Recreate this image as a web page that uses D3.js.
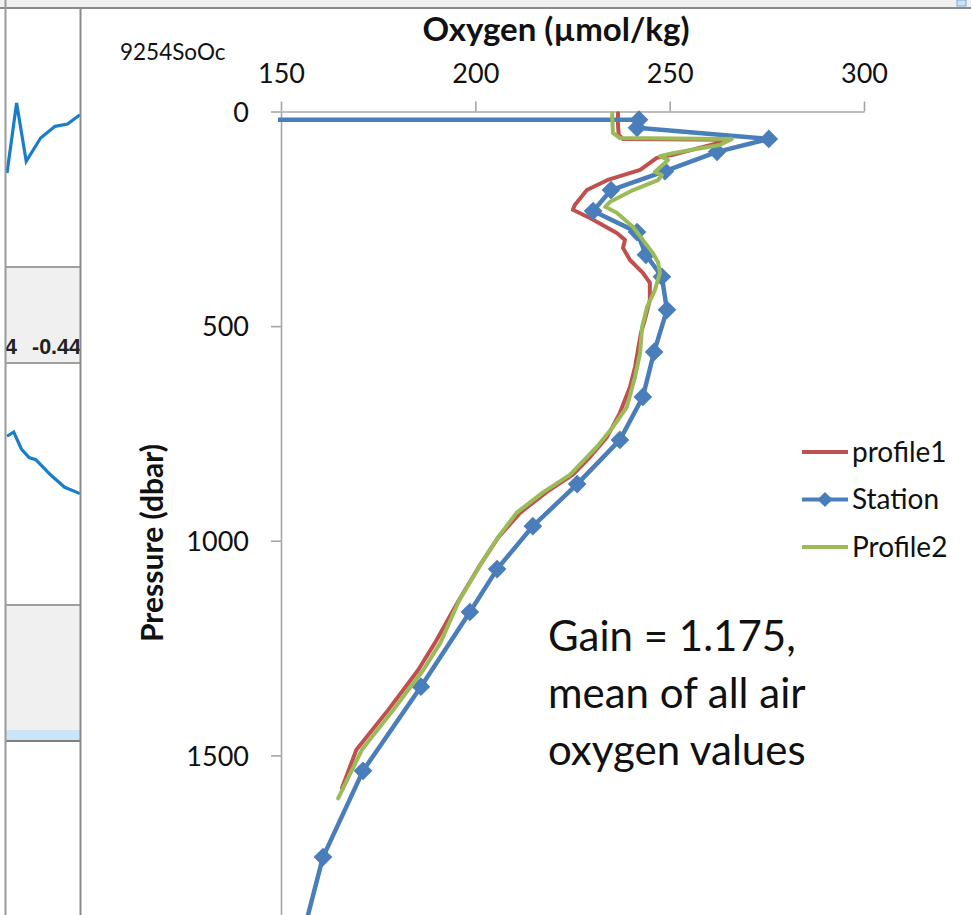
<!DOCTYPE html>
<html>
<head>
<meta charset="utf-8">
<script src="https://cdn.jsdelivr.net/npm/d3@7/dist/d3.min.js"></script>
<style>
  html, body { margin: 0; padding: 0; background: #fff; }
  svg { display: block; font-family: Lato, "Open Sans", sans-serif; }
</style>
</head>
<body>
<div id="chart"></div>
<script>
// Station oxygen profile vs two float profiles (pressure down, oxygen across).

// Station bottle/CTD values (first value is off the left of the axis).
var stationPressure = [20, 19, 38, 64, 94, 139, 183, 232, 281, 334, 385, 462, 560, 665, 765,
                       868, 966, 1066, 1166, 1340, 1536, 1737, 1940];
var stationOxygen = [0, 242.1, 241.6, 275.5, 262.2, 248.8, 234.9, 230.3, 241.6, 243.9, 248.0,
                     249.3, 246.0, 243.1, 237.2, 226.2, 214.8, 205.6, 198.6, 186.0, 171.1, 160.8, 155];

var profile1Pressure = [4, 30, 55, 64, 66, 101, 108, 136, 160, 183, 218, 229, 248, 283, 299, 318,
                        346, 376, 399, 439, 486, 516, 595, 642, 702, 758, 805, 846, 886, 935, 991,
                        1061, 1138, 1238, 1301, 1394, 1487, 1576];
var profile1Oxygen = [236.7, 236.7, 236.9, 238.0, 265.5, 250.8, 246.7, 242.4, 233.9, 228.7, 225.6,
                      225.1, 229.5, 236.4, 238.5, 238.0, 239.8, 243.1, 244.9, 244.9, 243.6, 242.6,
                      241.1, 239.8, 237.2, 233.9, 229.5, 225.1, 218.4, 211.5, 206.0, 200.9, 195.8,
                      189.6, 185.3, 177.6, 169.4, 165.7];

var profile2Pressure = [4, 50, 62, 64, 78, 97, 104, 113, 141, 148, 160, 183, 211, 222, 236, 269,
                        299, 330, 351, 376, 416, 455, 502, 563, 618, 688, 735, 781, 846, 886, 935,
                        991, 1061, 1138, 1238, 1301, 1394, 1487, 1600];
var profile2Oxygen = [235.2, 235.4, 237.2, 266.0, 262.9, 250.8, 247.5, 249.6, 246.2, 248.0, 247.0,
                      240.6, 234.6, 233.4, 236.4, 240.6, 243.1, 245.7, 247.0, 247.5, 246.2, 244.2,
                      242.9, 242.4, 241.1, 239.0, 235.4, 231.3, 224.4, 217.6, 210.6, 205.9, 201.0,
                      195.9, 191.0, 186.6, 178.9, 170.8, 164.7];

var oxygenTicks = [150, 200, 250, 300];
var pressureTicks = [0, 500, 1000, 1500];
var seriesNames = ["profile1", "Station", "Profile2"];
var noteLines = ["Gain = 1.175,", "mean of all air", "oxygen values"];

// Neighbouring spreadsheet panes that show at the left edge of the screenshot.
var sparkTop = [70, 100, 75, 85, 90, 91, 95];
var sparkTopX = [0, 1, 2, 3.5, 5, 6.3, 7.6];
var sparkMid = [70, 72, 64, 60, 59, 52, 46, 43];
var sparkMidX = [0, 0.7, 1.5, 2.3, 3, 4.5, 6, 7.6];
var cellText = ["4", "-0.44"];

var width = 971, height = 915;
var colors = { profile1: "#c0504d", Station: "#4a7ebb", Profile2: "#9bbb59" };
var axisColor = "#a6a6a6";

var svg = d3.select("#chart").append("svg")
    .attr("width", width)
    .attr("height", height);

// ---- window chrome ----
svg.append("rect").attr("width", width).attr("height", height).attr("fill", "#fff");
svg.append("rect").attr("x", 0).attr("y", 0).attr("width", width).attr("height", 7.5).attr("fill", "#f0f0f0");
svg.append("rect").attr("x", 6).attr("y", 267).attr("width", 74).attr("height", 96).attr("fill", "#f0f0f0");
svg.append("rect").attr("x", 6).attr("y", 605).attr("width", 74).attr("height", 125).attr("fill", "#f0f0f0");
svg.append("rect").attr("x", 6).attr("y", 730).attr("width", 74).attr("height", 10).attr("fill", "#cce4f7");
[267, 363, 605].forEach(function (y){
  svg.append("line").attr("x1", 6).attr("x2", 80).attr("y1", y).attr("y2", y)
    .attr("stroke", "#a0a0a0").attr("stroke-width", 2);
});
svg.append("line").attr("x1", 6).attr("x2", 80).attr("y1", 741).attr("y2", 741)
  .attr("stroke", "#555").attr("stroke-width", 1.5);
svg.append("line").attr("x1", 0).attr("x2", width).attr("y1", 8).attr("y2", 8)
  .attr("stroke", "#8a8a8a").attr("stroke-width", 2);
svg.append("rect").attr("x", 957).attr("y", 0).attr("width", 9).attr("height", 6)
  .attr("fill", "#cce4f7").attr("stroke", "#7aa7d4").attr("stroke-width", 1);

// little line charts in the left pane
var sparkX = d3.scaleLinear().domain([0, 7.6]).range([7, 80]);
var sparkTopY = d3.scaleLinear().domain([70, 100]).range([173, 103]);
var sparkMidY = d3.scaleLinear().domain([40, 72]).range([500, 432]);
var leftPane = svg.append("g");
leftPane.append("path")
  .datum(d3.zip(sparkTopX, sparkTop))
  .attr("fill", "none").attr("stroke", "#1a7dc8").attr("stroke-width", 3.2)
  .attr("d", d3.line().x(function (d){ return sparkX(d[0]); }).y(function (d){ return sparkTopY(d[1]); }));
leftPane.append("path")
  .datum(d3.zip(sparkMidX, sparkMid))
  .attr("fill", "none").attr("stroke", "#1a7dc8").attr("stroke-width", 3.2)
  .attr("d", d3.line().x(function (d){ return sparkX(d[0]); }).y(function (d){ return sparkMidY(d[1]); }));
leftPane.selectAll("text.cell")
  .data(cellText)
  .enter().append("text")
    .attr("class", "cell")
    .attr("x", function (d, i){ return i === 0 ? 5 : 32; })
    .attr("y", 354)
    .attr("font-family", "Liberation Sans, Arial, sans-serif")
    .attr("font-weight", "bold")
    .attr("font-size", 21.5)
    .attr("fill", "#222")
    .text(function (d){ return d; });
svg.append("line").attr("x1", 5.5).attr("x2", 5.5).attr("y1", 0).attr("y2", height)
  .attr("stroke", "#9a9a9a").attr("stroke-width", 2);

// chart pane
svg.append("rect").attr("x", 81).attr("y", 9).attr("width", width - 81).attr("height", height - 9).attr("fill", "#fff");
svg.append("line").attr("x1", 80.5).attr("x2", 80.5).attr("y1", 7).attr("y2", height)
  .attr("stroke", "#8a8a8a").attr("stroke-width", 2);

// ---- scales ----
var x = d3.scaleLinear().domain([150, 300]).range([281, 864]);
var y = d3.scaleLinear().domain([0, 2000]).range([111.5, 970]);

// ---- axes ----
var xAxis = svg.append("g")
  .attr("transform", "translate(0," + y(0) + ")")
  .call(d3.axisTop(x).tickValues(oxygenTicks).tickSize(10).tickPadding(19).tickSizeOuter(0));
var yAxis = svg.append("g")
  .attr("transform", "translate(" + x(150) + ",0)")
  .call(d3.axisLeft(y).tickValues(pressureTicks).tickFormat(d3.format("d"))
    .tickSize(10).tickPadding(22).tickSizeOuter(0));

[xAxis, yAxis].forEach(function (ax){
  ax.select(".domain").attr("stroke", axisColor).attr("stroke-width", 1.6);
  ax.selectAll(".tick line").attr("stroke", axisColor).attr("stroke-width", 1.6);
  ax.selectAll(".tick text")
    .attr("fill", "#111")
    .style("font-family", "Lato, sans-serif")
    .style("font-size", "27px");
});
yAxis.selectAll(".tick text").attr("dy", "0.36em");

svg.append("text")
  .attr("x", 556).attr("y", 41)
  .attr("text-anchor", "middle")
  .attr("font-weight", "bold")
  .attr("font-size", 33)
  .attr("fill", "#111")
  .text("Oxygen (µmol/kg)");

svg.append("text")
  .attr("x", 120).attr("y", 60)
  .attr("font-size", 22.5)
  .attr("fill", "#111")
  .text("9254SoOc");

svg.append("text")
  .attr("transform", "translate(163,543) rotate(-90)")
  .attr("text-anchor", "middle")
  .attr("font-weight", "bold")
  .attr("font-size", 30)
  .attr("fill", "#111")
  .text("Pressure (dbar)");

// ---- series ----
svg.append("clipPath").attr("id", "plot-clip")
  .append("rect").attr("x", 278).attr("y", 95).attr("width", 620).attr("height", 900);

var plot = svg.append("g").attr("clip-path", "url(#plot-clip)");

var line = d3.line()
  .x(function (d){ return x(d[1]); })
  .y(function (d){ return y(d[0]); });

var profile1 = d3.zip(profile1Pressure, profile1Oxygen),
    station = d3.zip(stationPressure, stationOxygen),
    profile2 = d3.zip(profile2Pressure, profile2Oxygen);

plot.append("path").datum(profile1)
  .attr("fill", "none").attr("stroke", colors.profile1)
  .attr("stroke-width", 4).attr("stroke-linejoin", "round").attr("stroke-linecap", "round")
  .attr("d", line);

plot.append("path").datum(station)
  .attr("fill", "none").attr("stroke", colors.Station)
  .attr("stroke-width", 4.5).attr("stroke-linejoin", "round")
  .attr("d", line);

// Excel-style diamond: a square turned by 45 degrees
var diamond = d3.symbol().type(d3.symbolSquare).size(175);
plot.selectAll("path.marker")
  .data(station.filter(function (d){ return d[1] >= 150; }))
  .enter().append("path")
    .attr("class", "marker")
    .attr("d", diamond)
    .attr("transform", function (d){ return "translate(" + x(d[1]) + "," + y(d[0]) + ") rotate(45)"; })
    .attr("fill", colors.Station);

plot.append("path").datum(profile2)
  .attr("fill", "none").attr("stroke", colors.Profile2)
  .attr("stroke-width", 4).attr("stroke-linejoin", "round").attr("stroke-linecap", "round")
  .attr("d", line);

// ---- legend ----
var legend = svg.append("g").attr("transform", "translate(802,452)");
var items = legend.selectAll("g")
  .data(seriesNames)
  .enter().append("g")
    .attr("transform", function (d, i){ return "translate(0," + (i * 47.5) + ")"; });
items.append("line")
  .attr("x1", 0).attr("x2", 46).attr("y1", 0).attr("y2", 0)
  .attr("stroke", function (d){ return colors[d]; })
  .attr("stroke-width", 4);
items.filter(function (d){ return d === "Station"; })
  .append("path")
    .attr("d", d3.symbol().type(d3.symbolSquare).size(115))
    .attr("transform", "translate(23,0) rotate(45)")
    .attr("fill", colors.Station);
items.append("text")
  .attr("x", 50).attr("y", 0).attr("dy", "0.35em")
  .attr("font-size", 28)
  .attr("fill", "#111")
  .text(function (d){ return d; });

// ---- annotation ----
svg.append("g").selectAll("text")
  .data(noteLines)
  .enter().append("text")
    .attr("x", 548)
    .attr("y", function (d, i){ return 651 + i * 57; })
    .attr("font-size", 42)
    .attr("fill", "#111")
    .text(function (d){ return d; });
</script>
</body>
</html>
